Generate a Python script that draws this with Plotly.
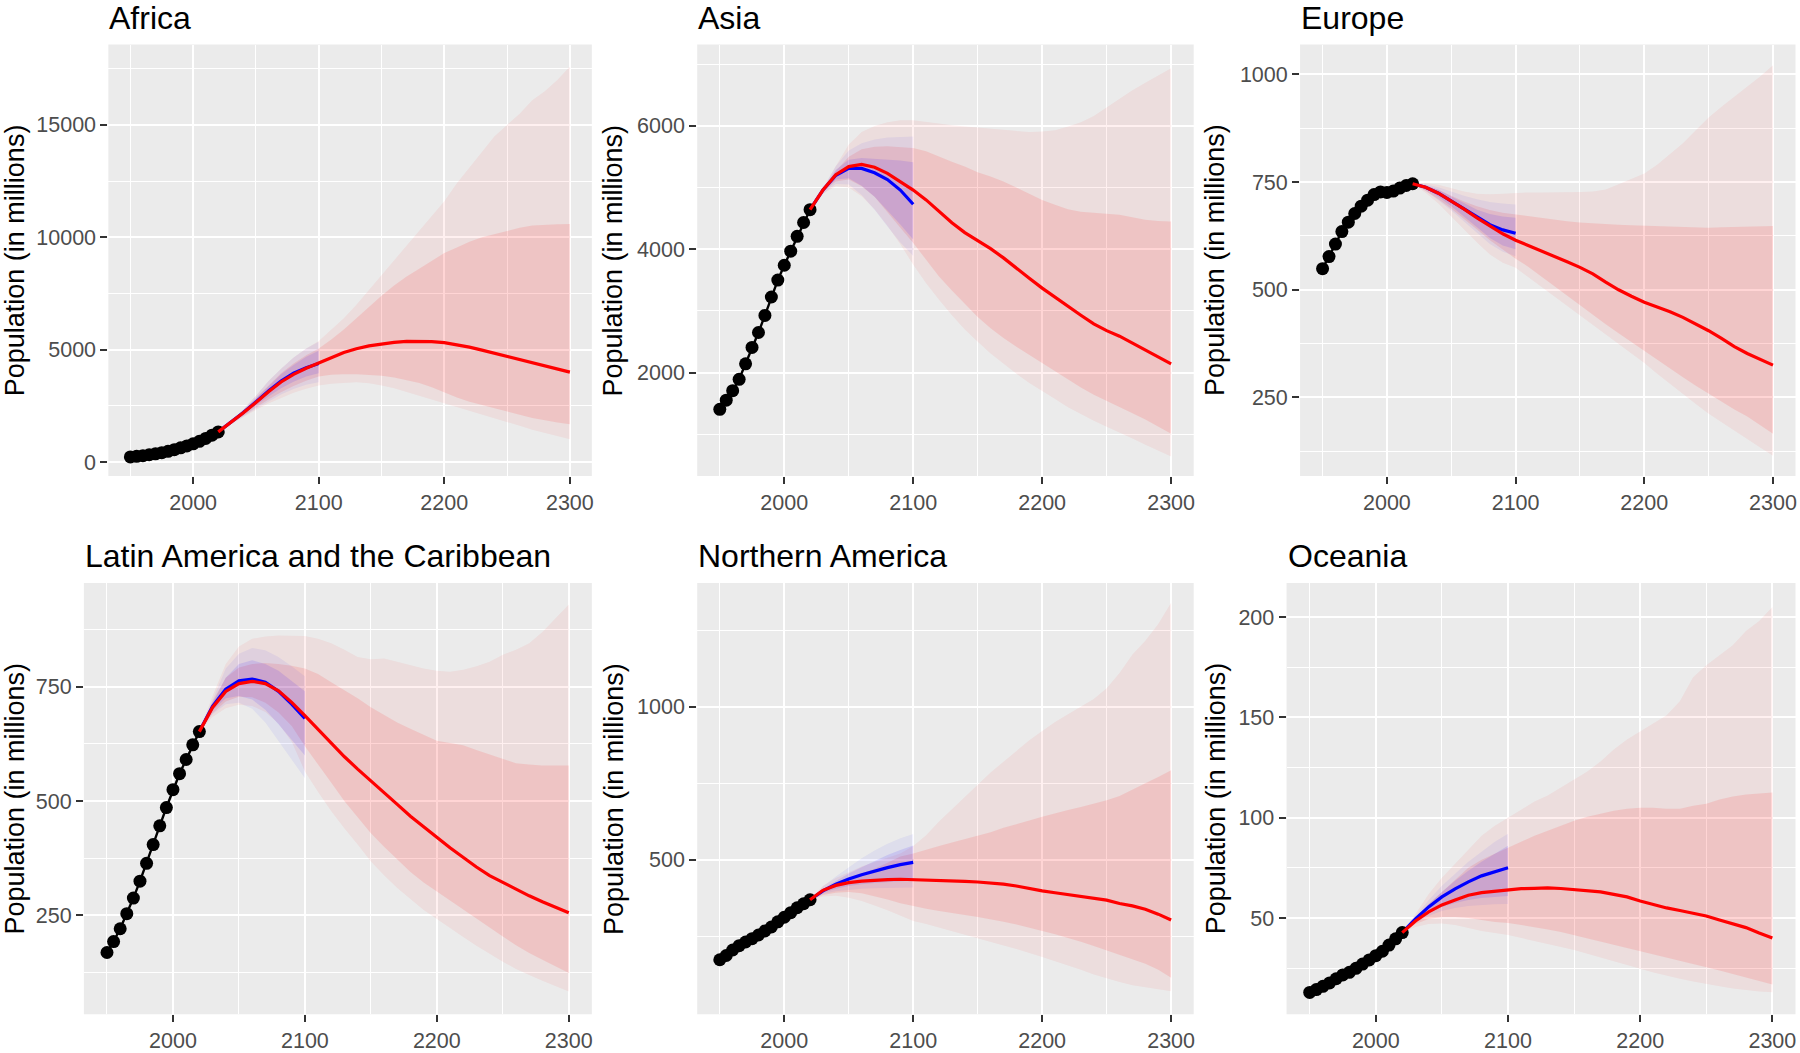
import plotly.graph_objects as go

# ---------------- data ----------------
YEARS_HIST = [1950, 1955, 1960, 1965, 1970, 1975, 1980, 1985, 1990, 1995, 2000, 2005, 2010, 2015, 2020]
YEARS_LONG = [2020, 2030, 2040, 2050, 2060, 2070, 2080, 2090, 2100, 2110, 2120, 2130, 2140, 2150,
              2160, 2170, 2180, 2190, 2200, 2210, 2220, 2230, 2240, 2250, 2260, 2270, 2280, 2290, 2300]
YEARS_SHORT = [2020, 2030, 2040, 2050, 2060, 2070, 2080, 2090, 2100]
X_TICKS = [2000, 2100, 2200, 2300]
X_MINOR = [1950, 2050, 2150, 2250]

REGIONS = ["Africa", "Asia", "Europe", "Latin America and the Caribbean", "Northern America", "Oceania"]

# Africa
AFR_HIST = [228, 254, 284, 322, 364, 415, 476, 548, 630, 717, 811, 921, 1049, 1194, 1341]
AFR_RED_MED = [1341, 1750, 2190, 2650, 3130, 3560, 3900, 4170, 4390, 4640, 4870, 5040, 5170, 5260, 5320,
               5370, 5380, 5360, 5310, 5220, 5110, 4980, 4840, 4690, 4540, 4400, 4270, 4130, 4000]
AFR_RED_U95 = [1341, 1800, 2350, 2950, 3600, 4150, 4650, 5050, 5380, 5900, 6400, 7000, 7650, 8300, 8950,
               9600, 10250, 10900, 11600, 12400, 13100, 13800, 14500, 15000, 15500, 16100, 16500, 17000, 17600]
AFR_RED_U80 = [1341, 1780, 2300, 2850, 3420, 3950, 4380, 4750, 5050, 5450, 5900, 6400, 6900, 7400, 7850,
               8250, 8600, 8950, 9300, 9550, 9800, 10000, 10150, 10300, 10420, 10520, 10560, 10580, 10590]
AFR_RED_L80 = [1341, 1700, 2060, 2420, 2780, 3100, 3380, 3620, 3800, 3880, 3900, 3900, 3880, 3840, 3760,
               3650, 3520, 3330, 3100, 2870, 2680, 2520, 2380, 2240, 2100, 1960, 1850, 1760, 1680]
AFR_RED_L95 = [1341, 1680, 2000, 2310, 2600, 2850, 3080, 3260, 3400, 3480, 3530, 3550, 3500, 3400, 3280,
               3120, 2960, 2800, 2620, 2450, 2280, 2110, 1940, 1780, 1610, 1440, 1290, 1150, 1010]
AFR_BLUE_MED = [1341, 1755, 2200, 2670, 3160, 3600, 3950, 4200, 4380]
AFR_BLUE_U95 = [1341, 1800, 2350, 2950, 3600, 4150, 4650, 5050, 5350]
AFR_BLUE_U80 = [1341, 1780, 2290, 2830, 3380, 3900, 4320, 4680, 4950]
AFR_BLUE_L80 = [1341, 1720, 2110, 2510, 2920, 3280, 3570, 3800, 3950]
AFR_BLUE_L95 = [1341, 1690, 2030, 2370, 2700, 3000, 3250, 3440, 3550]

# Asia
ASI_HIST = [1405, 1553, 1707, 1891, 2142, 2408, 2650, 2927, 3226, 3500, 3741, 3969, 4210, 4434, 4641]
ASI_RED_MED = [4641, 4960, 5210, 5340, 5375, 5330, 5230, 5100, 4960, 4800, 4620, 4430, 4270, 4140, 4010,
               3860, 3690, 3530, 3370, 3220, 3080, 2930, 2790, 2680, 2590, 2480, 2370, 2250, 2140]
ASI_RED_U95 = [4641, 4980, 5350, 5700, 5900, 6000, 6060, 6090, 6090, 6070, 6040, 6010, 5990, 5970, 5950,
               5930, 5910, 5900, 5910, 5930, 5990, 6060, 6160, 6300, 6450, 6580, 6700, 6820, 6935]
ASI_RED_U80 = [4641, 4970, 5270, 5500, 5620, 5660, 5670, 5660, 5640, 5590, 5500, 5420, 5340, 5250, 5180,
               5100, 5000, 4900, 4800, 4720, 4650, 4610, 4590, 4580, 4560, 4520, 4480, 4460, 4450]
ASI_RED_L80 = [4641, 4930, 5100, 5130, 5020, 4850, 4600, 4350, 4100, 3830, 3560, 3330, 3110, 2900, 2720,
               2560, 2420, 2280, 2150, 2020, 1890, 1760, 1640, 1540, 1440, 1340, 1240, 1130, 1010]
ASI_RED_L95 = [4641, 4900, 5020, 5000, 4860, 4650, 4380, 4080, 3750, 3450, 3180, 2930, 2700, 2500, 2310,
               2140, 1980, 1830, 1700, 1570, 1440, 1330, 1220, 1120, 1020, 930, 830, 730, 640]
ASI_BLUE_MED = [4641, 4960, 5200, 5310, 5310, 5240, 5130, 4960, 4730]
ASI_BLUE_U95 = [4641, 5000, 5350, 5600, 5720, 5780, 5810, 5820, 5830]
ASI_BLUE_U80 = [4641, 4980, 5290, 5450, 5480, 5470, 5460, 5440, 5410]
ASI_BLUE_L80 = [4641, 4930, 5130, 5150, 5030, 4850, 4620, 4400, 4160]
ASI_BLUE_L95 = [4641, 4900, 5060, 5050, 4880, 4640, 4370, 4110, 3890]

# Europe
EUR_HIST = [549, 577, 606, 635, 657, 677, 694, 708, 721, 727, 726, 729, 736, 742, 746]
EUR_RED_MED = [746, 738, 724, 706, 687, 667, 648, 630, 615, 603, 591, 578, 565, 552, 537,
               518, 500, 485, 471, 460, 449, 436, 421, 405, 387, 368, 352, 338, 325]
EUR_RED_U95 = [746, 748, 744, 736, 728, 723, 722, 723, 725, 726, 726, 726, 726, 727, 728,
               733, 745, 757, 770, 790, 815, 840, 870, 900, 925, 948, 970, 995, 1021]
EUR_RED_U80 = [746, 742, 732, 718, 705, 694, 685, 679, 675, 670, 666, 662, 659, 656, 654,
               652, 651, 650, 649, 648, 647, 646, 645, 644, 645, 646, 647, 648, 648]
EUR_RED_L80 = [746, 730, 710, 688, 665, 640, 615, 593, 572, 553, 531, 509, 487, 465, 442,
               420, 399, 379, 358, 338, 317, 297, 277, 258, 240, 222, 206, 186, 166]
EUR_RED_L95 = [746, 725, 700, 670, 640, 610, 582, 563, 551, 528, 506, 484, 462, 440, 418,
               396, 374, 352, 330, 305, 280, 258, 235, 212, 192, 172, 153, 134, 115]
EUR_BLUE_MED = [746, 738, 724, 706, 688, 668, 651, 639, 631]
EUR_BLUE_U95 = [746, 745, 738, 728, 718, 710, 704, 700, 698]
EUR_BLUE_U80 = [746, 742, 732, 716, 700, 686, 676, 670, 667]
EUR_BLUE_L80 = [746, 735, 716, 694, 670, 645, 620, 603, 594]
EUR_BLUE_L95 = [746, 730, 708, 684, 660, 632, 606, 588, 578]

# Latin America and the Caribbean
LAC_HIST = [169, 193, 221, 254, 288, 325, 364, 405, 446, 486, 525, 560, 591, 623, 652]
LAC_RED_MED = [652, 705, 740, 757, 762, 757, 741, 716, 687, 657, 627, 597, 570, 545, 519,
               493, 467, 443, 421, 398, 376, 356, 337, 322, 308, 293, 280, 268, 256]
LAC_RED_U95 = [652, 730, 800, 838, 855, 860, 862, 862, 861, 855, 845, 831, 815, 810, 812,
               805, 797, 790, 785, 783, 787, 795, 805, 820, 831, 845, 870, 900, 930]
LAC_RED_U80 = [652, 718, 770, 792, 800, 802, 800, 796, 790, 778, 760, 742, 725, 705, 688,
               672, 658, 645, 632, 627, 622, 612, 602, 592, 583, 580, 578, 578, 578]
LAC_RED_L80 = [652, 692, 718, 728, 727, 715, 694, 664, 620, 580, 540, 500, 465, 430, 400,
               372, 345, 322, 302, 282, 262, 243, 224, 204, 185, 168, 153, 138, 124]
LAC_RED_L95 = [652, 684, 703, 711, 708, 695, 670, 630, 565, 520, 478, 440, 405, 368, 338,
               310, 285, 262, 242, 222, 203, 184, 166, 149, 133, 120, 107, 95, 84]
LAC_BLUE_MED = [652, 707, 745, 763, 767, 760, 740, 712, 681]
LAC_BLUE_U95 = [652, 722, 790, 822, 835, 830, 815, 795, 773]
LAC_BLUE_U80 = [652, 714, 770, 800, 808, 800, 785, 762, 740]
LAC_BLUE_L80 = [652, 698, 725, 730, 722, 700, 668, 635, 600]
LAC_BLUE_L95 = [652, 690, 712, 715, 702, 672, 630, 590, 550]

# Northern America
NAM_HIST = [173, 187, 205, 219, 231, 242, 254, 267, 280, 297, 312, 327, 343, 356, 369]
NAM_RED_MED = [369, 400, 416, 425, 430, 433, 435, 436, 435, 433, 432, 430, 429, 427, 424,
               420, 414, 405, 398, 392, 386, 380, 376, 368, 357, 349, 338, 322, 303]
NAM_RED_U95 = [369, 415, 440, 460, 478, 492, 506, 520, 545, 580, 625, 665, 705, 745, 785,
               820, 855, 890, 920, 950, 975, 1000, 1025, 1060, 1110, 1170, 1215, 1270, 1339]
NAM_RED_U80 = [369, 405, 425, 442, 455, 470, 490, 510, 520, 533, 545, 556, 567, 578, 590,
               604, 617, 628, 640, 652, 662, 672, 683, 694, 708, 730, 750, 770, 792]
NAM_RED_L80 = [369, 385, 392, 394, 390, 380, 370, 358, 349, 340, 332, 325, 319, 313, 306,
               297, 288, 278, 267, 256, 245, 232, 218, 204, 190, 175, 160, 140, 114]
NAM_RED_L95 = [369, 380, 382, 376, 365, 350, 335, 318, 300, 290, 280, 268, 256, 244, 232,
               220, 208, 196, 182, 168, 155, 140, 125, 112, 100, 90, 82, 76, 70]
NAM_BLUE_MED = [369, 398, 420, 437, 451, 463, 474, 484, 491]
NAM_BLUE_U95 = [369, 412, 445, 475, 505, 530, 552, 570, 584]
NAM_BLUE_U80 = [369, 405, 430, 455, 475, 495, 515, 532, 546]
NAM_BLUE_L80 = [369, 392, 405, 414, 420, 424, 427, 430, 432]
NAM_BLUE_L95 = [369, 388, 397, 402, 405, 407, 408, 409, 409]

# Oceania
OCE_HIST = [12.9, 14.3, 15.9, 17.6, 19.7, 21.6, 22.9, 24.9, 27.0, 29.1, 31.2, 33.4, 36.5, 39.6, 42.7]
OCE_RED_MED = [42.7, 48.5, 53, 56.5, 59, 61.3, 62.6, 63.4, 64, 64.6, 64.8, 65, 64.7, 64.2, 63.8,
               63, 61.8, 60.5, 58.5, 56.6, 55, 53.7, 52.5, 51, 49, 47, 45.2, 42.5, 40]
OCE_RED_U95 = [42.7, 52, 62, 70, 77, 84, 91, 96, 100, 104, 108, 111, 115, 119, 123,
               128, 134, 139, 143, 147, 151, 158, 170, 176, 181, 186, 193, 198, 205]
OCE_RED_U80 = [42.7, 50, 57, 63, 69, 75, 79, 82, 85, 88, 91, 93.5, 96, 98.5, 100.5,
               102, 103.5, 104.5, 105, 105, 104.5, 104.5, 106, 107, 109, 110.5, 111.5, 112, 112.6]
OCE_RED_L80 = [42.7, 47, 49.5, 50.5, 50.5, 50, 49, 48, 47.5, 46.5, 45.5, 44.3, 43, 41.5, 40,
               38.3, 36.7, 35.2, 33.7, 32, 30.3, 28.7, 27, 25.4, 23.8, 22, 20.3, 18.6, 16.8]
OCE_RED_L95 = [42.7, 45.5, 47, 47.3, 46.5, 45, 43.5, 42.5, 41.5, 40, 38.5, 37, 35.5, 34, 32.2,
               30.2, 28.4, 26.6, 24.7, 22.8, 21.2, 19.7, 18.3, 17, 15.9, 14.8, 14, 13.4, 13]
OCE_BLUE_MED = [42.7, 49.5, 55.5, 60.5, 64.5, 68, 71, 73.2, 75]
OCE_BLUE_U95 = [42.7, 51, 59, 66, 72, 78, 83, 88, 92]
OCE_BLUE_U80 = [42.7, 50, 57, 63, 68.5, 73.5, 78, 82, 86]
OCE_BLUE_L80 = [42.7, 48.5, 52.5, 55.5, 57.5, 59, 60, 60.5, 61]
OCE_BLUE_L95 = [42.7, 47.5, 51, 53.5, 55, 56, 56.5, 56.8, 57]

Y_TICKS = {
    "Africa": [0, 5000, 10000, 15000],
    "Asia": [2000, 4000, 6000],
    "Europe": [250, 500, 750, 1000],
    "Latin America and the Caribbean": [250, 500, 750],
    "Northern America": [500, 1000],
    "Oceania": [50, 100, 150, 200],
}
Y_MINOR = {
    "Africa": [2500, 7500, 12500, 17500],
    "Asia": [1000, 3000, 5000, 7000],
    "Europe": [125, 375, 625, 875],
    "Latin America and the Caribbean": [125, 375, 625, 875],
    "Northern America": [250, 750, 1250],
    "Oceania": [25, 75, 125, 175],
}

DATA = {
    "Africa": (AFR_HIST, AFR_RED_MED, AFR_RED_U95, AFR_RED_U80, AFR_RED_L80, AFR_RED_L95,
               AFR_BLUE_MED, AFR_BLUE_U95, AFR_BLUE_U80, AFR_BLUE_L80, AFR_BLUE_L95),
    "Asia": (ASI_HIST, ASI_RED_MED, ASI_RED_U95, ASI_RED_U80, ASI_RED_L80, ASI_RED_L95,
             ASI_BLUE_MED, ASI_BLUE_U95, ASI_BLUE_U80, ASI_BLUE_L80, ASI_BLUE_L95),
    "Europe": (EUR_HIST, EUR_RED_MED, EUR_RED_U95, EUR_RED_U80, EUR_RED_L80, EUR_RED_L95,
               EUR_BLUE_MED, EUR_BLUE_U95, EUR_BLUE_U80, EUR_BLUE_L80, EUR_BLUE_L95),
    "Latin America and the Caribbean": (LAC_HIST, LAC_RED_MED, LAC_RED_U95, LAC_RED_U80, LAC_RED_L80, LAC_RED_L95,
                                        LAC_BLUE_MED, LAC_BLUE_U95, LAC_BLUE_U80, LAC_BLUE_L80, LAC_BLUE_L95),
    "Northern America": (NAM_HIST, NAM_RED_MED, NAM_RED_U95, NAM_RED_U80, NAM_RED_L80, NAM_RED_L95,
                         NAM_BLUE_MED, NAM_BLUE_U95, NAM_BLUE_U80, NAM_BLUE_L80, NAM_BLUE_L95),
    "Oceania": (OCE_HIST, OCE_RED_MED, OCE_RED_U95, OCE_RED_U80, OCE_RED_L80, OCE_RED_L95,
                OCE_BLUE_MED, OCE_BLUE_U95, OCE_BLUE_U80, OCE_BLUE_L80, OCE_BLUE_L95),
}

# ---------------- layout (pixels) ----------------
W, H = 1800, 1053
PANEL_PX = {  # left, right, top, bottom
    "Africa": (108.5, 592.5, 45, 480),
    "Asia": (698, 1195, 45, 480),
    "Europe": (1301.5, 1797.5, 45, 480),
    "Latin America and the Caribbean": (84, 592.5, 588, 1023),
    "Northern America": (698, 1195, 588, 1023),
    "Oceania": (1288, 1797.5, 588, 1023),
}
Y_RANGE = {
    "Africa": (-618, 18573),
    "Asia": (325, 7318),
    "Europe": (68, 1069),
    "Latin America and the Caribbean": (34, 977),
    "Northern America": (-5, 1404),
    "Oceania": (2, 217),
}
X_RANGE = (1932.5, 2317.5)
YTITLE_X = {"Africa": 15, "Asia": 614, "Europe": 1217,
            "Latin America and the Caribbean": 15, "Northern America": 614, "Oceania": 1217}

FONT = "Liberation Sans, Arial, Helvetica, sans-serif"
BG = "#EBEBEB"
RED95 = "rgba(255,0,0,0.06)"
RED80 = "rgba(255,0,0,0.11)"
BLUE95 = "rgba(0,0,255,0.055)"
BLUE80 = "rgba(40,0,255,0.11)"
TITLE_SIZE = 32
AXIS_TITLE_SIZE = 27
TICK_SIZE = 21.5


def px_x(v):
    return v / W


def px_y(v):
    return 1 - v / H


fig = go.Figure()
layout = {}
annotations = []

for i, reg in enumerate(REGIONS):
    n = "" if i == 0 else str(i + 1)
    xa, ya = "x" + n, "y" + n
    hist, rmed, ru95, ru80, rl80, rl95, bmed, bu95, bu80, bl80, bl95 = DATA[reg]

    def ribbon(xs, up, lo, color):
        fig.add_trace(go.Scatter(x=xs + xs[::-1], y=up + lo[::-1], fill="toself", fillcolor=color,
                                 line=dict(width=0), mode="lines", hoverinfo="skip",
                                 showlegend=False, xaxis=xa, yaxis=ya))

    ribbon(YEARS_LONG, ru95, rl95, RED95)
    ribbon(YEARS_LONG, ru80, rl80, RED80)
    ribbon(YEARS_SHORT, bu95, bl95, BLUE95)
    ribbon(YEARS_SHORT, bu80, bl80, BLUE80)

    fig.add_trace(go.Scatter(x=YEARS_SHORT, y=bmed, mode="lines", line=dict(color="#0000FF", width=3.2),
                             showlegend=False, xaxis=xa, yaxis=ya))
    fig.add_trace(go.Scatter(x=YEARS_HIST, y=hist, mode="lines+markers",
                             line=dict(color="black", width=2.4),
                             marker=dict(color="black", size=13),
                             showlegend=False, xaxis=xa, yaxis=ya))
    fig.add_trace(go.Scatter(x=YEARS_LONG, y=rmed, mode="lines", line=dict(color="#FF0000", width=3.2),
                             showlegend=False, xaxis=xa, yaxis=ya))

    l, r, t, b = PANEL_PX[reg]
    layout["xaxis" + n] = dict(
        domain=[px_x(l), px_x(r)], range=list(X_RANGE), anchor=ya,
        tickmode="array", tickvals=X_TICKS, ticktext=[str(v) for v in X_TICKS],
        ticks="outside", ticklen=7, tickwidth=2, tickcolor="#333333",
        tickfont=dict(family=FONT, size=TICK_SIZE, color="#4D4D4D"),
        showgrid=True, gridcolor="white", gridwidth=2, zeroline=False, showline=False,
        minor=dict(tickmode="array", tickvals=X_MINOR, showgrid=True, gridcolor="white", gridwidth=1.2, ticks=""),
        fixedrange=True,
    )
    layout["yaxis" + n] = dict(
        domain=[px_y(b), px_y(t)], range=list(Y_RANGE[reg]), anchor=xa,
        tickmode="array", tickvals=Y_TICKS[reg], ticktext=[str(v) for v in Y_TICKS[reg]],
        ticks="outside", ticklen=7, tickwidth=2, tickcolor="#333333",
        tickfont=dict(family=FONT, size=TICK_SIZE, color="#4D4D4D"),
        showgrid=True, gridcolor="white", gridwidth=2, zeroline=False, showline=False,
        minor=dict(tickmode="array", tickvals=Y_MINOR[reg], showgrid=True, gridcolor="white", gridwidth=1.2, ticks=""),
        fixedrange=True,
    )
    # panel background
    layout.setdefault("shapes", []).append(dict(
        type="rect", xref="paper", yref="paper", x0=px_x(l), x1=px_x(r), y0=px_y(b), y1=px_y(t),
        fillcolor=BG, line=dict(width=0), layer="below"))
    # panel title
    annotations.append(dict(text=reg, xref="paper", yref="paper", x=px_x(l - 1), y=px_y(t - 27),
                            xanchor="left", yanchor="middle", showarrow=False,
                            font=dict(family=FONT, size=TITLE_SIZE, color="black")))
    # y-axis title
    annotations.append(dict(text="Population (in millions)", xref="paper", yref="paper",
                            x=px_x(YTITLE_X[reg]), y=px_y((t + b) / 2), textangle=-90,
                            xanchor="center", yanchor="middle", showarrow=False,
                            font=dict(family=FONT, size=AXIS_TITLE_SIZE, color="black")))

fig.update_layout(**layout)
fig.update_layout(
    width=W, height=H, margin=dict(l=0, r=0, t=0, b=0),
    paper_bgcolor="white", plot_bgcolor="rgba(0,0,0,0)",
    annotations=annotations, showlegend=False,
)

fig.write_html("out.html", config={"displayModeBar": False},
               post_script="document.body.style.margin='0';document.body.style.overflow='hidden';")
